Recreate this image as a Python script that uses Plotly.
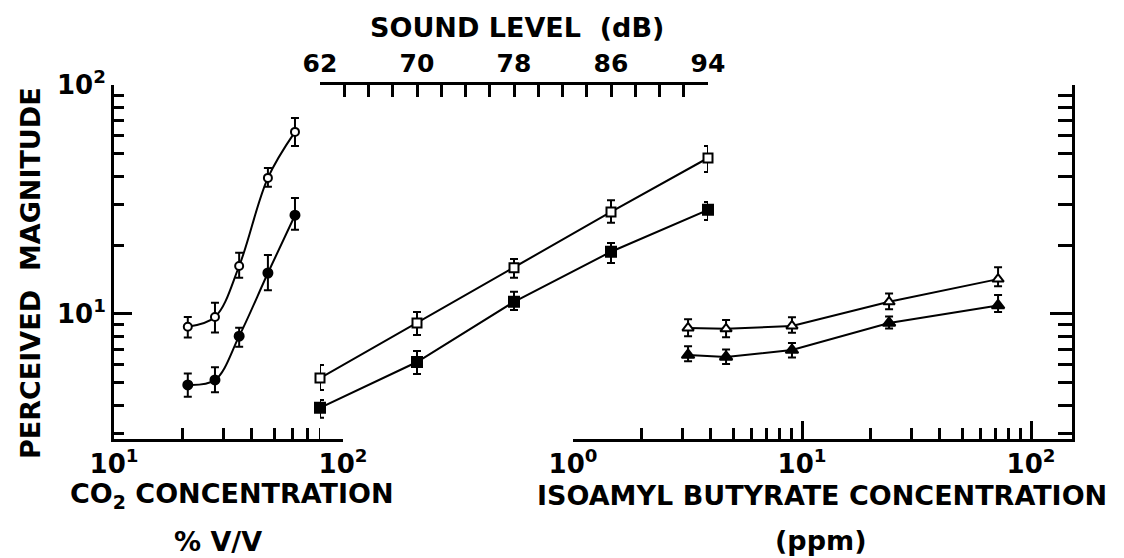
import plotly.graph_objects as go
import math

# ---------------- data ----------------
co2_conc = [21.0, 27.6, 35.2, 47.0, 61.7]
co2_open = [8.8, 9.7, 16.2, 39.3, 62.4]
co2_open_up = [0.9, 1.5, 2.3, 4.1, 9.4]
co2_open_dn = [0.9, 1.4, 1.8, 3.4, 8.2]
co2_filled = [4.9, 5.15, 8.0, 15.1, 27.0]
co2_filled_up = [0.6, 0.7, 0.7, 3.0, 5.1]
co2_filled_dn = [0.55, 0.6, 0.8, 2.4, 3.7]

sound_db = [62, 70, 78, 86, 94]
sound_open = [5.25, 9.14, 15.9, 27.9, 48.0]
sound_open_up = [0.74, 1.06, 1.5, 3.5, 6.2]
sound_open_dn = [0.59, 1.04, 1.5, 2.9, 6.3]
sound_filled = [3.89, 6.17, 11.3, 18.7, 28.5]
sound_filled_up = [0.32, 0.72, 1.2, 1.7, 2.3]
sound_filled_dn = [0.37, 0.70, 0.9, 2.0, 2.8]

iso_conc = [3.18, 4.66, 9.04, 24.0, 71.8]
iso_open = [8.69, 8.61, 8.87, 11.3, 14.2]
iso_open_up = [0.8, 0.8, 0.8, 1.0, 1.8]
iso_open_dn = [0.7, 0.7, 0.6, 0.8, 1.0]
iso_filled = [6.62, 6.49, 6.96, 9.14, 10.9]
iso_filled_up = [0.6, 0.5, 0.5, 0.6, 1.2]
iso_filled_dn = [0.4, 0.45, 0.5, 0.5, 0.7]

sound_ticks = [62, 70, 78, 86, 94]
y_major = [10, 100]
y_minor = [2, 3, 4, 5, 6, 7, 8, 9, 20, 30, 40, 50, 60, 70, 80, 90]
co2_major = [10, 100]
co2_minor = [20, 30, 40, 50, 60, 70, 80, 90]
iso_major = [1, 10, 100]
iso_minor = [2, 3, 4, 5, 6, 7, 8, 9, 20, 30, 40, 50, 60, 70, 80, 90]

# ---------------- layout geometry ----------------
W, H = 1124, 558
L, R, T, B = 114, 1072, 85, 439
PW, PH = R - L, B - T


def px_x(p):
    return (p - L) / PW


def px_y(p):
    return (B - p) / PH


FONT = "DejaVu Sans"
BLACK = "black"


def sup(v):
    return "10<sup>%d</sup>" % round(math.log10(v))


fig = go.Figure()


def add_series(x, y, up, dn, symbol, filled, xaxis, shape="linear", size=10):
    fig.add_trace(go.Scatter(
        x=x, y=y, xaxis=xaxis, yaxis="y", mode="lines+markers",
        line=dict(color=BLACK, width=2, shape=shape, smoothing=1.0),
        marker=dict(symbol=symbol, size=size,
                    color=BLACK if filled else "white",
                    line=dict(color=BLACK, width=2)),
        error_y=dict(type="data", symmetric=False, array=up, arrayminus=dn,
                     color=BLACK, thickness=2, width=4),
        cliponaxis=False, showlegend=False, hoverinfo="skip"))


add_series(co2_conc, co2_open, co2_open_up, co2_open_dn, "circle", False, "x", "spline", 8)
add_series(co2_conc, co2_filled, co2_filled_up, co2_filled_dn, "circle", True, "x", "spline", 9)
add_series(sound_db, sound_open, sound_open_up, sound_open_dn, "square", False, "x2", "linear", 9)
add_series(sound_db, sound_filled, sound_filled_up, sound_filled_dn, "square", True, "x2", "linear", 10)
add_series(iso_conc, iso_open, iso_open_up, iso_open_dn, "triangle-up", False, "x3", "linear", 10)
add_series(iso_conc, iso_filled, iso_filled_up, iso_filled_dn, "triangle-up", True, "x3", "linear", 11)

tickfont = dict(family=FONT, size=26, color=BLACK, weight="bold")
axis_common = dict(showgrid=False, zeroline=False, showline=True, linecolor=BLACK,
                   linewidth=3, ticks="inside", tickcolor=BLACK, tickwidth=3,
                   mirror=False)

yr = [0.454, 2.0]

fig.update_layout(
    width=W, height=H, autosize=False,
    margin=dict(l=L, r=W - R, t=T, b=H - B, pad=0),
    paper_bgcolor="white", plot_bgcolor="white",
    xaxis=dict(axis_common, type="log", range=[1, 2], domain=[0, px_x(343)],
               anchor="y", side="bottom", tickmode="array", tickvals=co2_major,
               ticktext=[sup(v) for v in co2_major], ticklen=18, tickfont=tickfont,
               minor=dict(tickmode="array", tickvals=co2_minor, ticklen=11,
                          ticks="inside", tickcolor=BLACK, tickwidth=3)),
    xaxis2=dict(axis_common, type="linear", range=[62, 94],
                domain=[px_x(320), px_x(708)], anchor="y", side="top",
                tickmode="array", tickvals=sound_ticks,
                ticktext=[str(v) for v in sound_ticks], ticklen=12,
                tickfont=dict(family=FONT, size=25, color=BLACK, weight="bold"),
                minor=dict(dtick=2, tick0=62, ticklen=12, ticks="inside",
                           tickcolor=BLACK, tickwidth=3)),
    xaxis3=dict(axis_common, type="log", range=[0, 2.179],
                domain=[px_x(573), 1.0], anchor="y", side="bottom",
                tickmode="array", tickvals=iso_major,
                ticktext=[sup(v) for v in iso_major], ticklen=18, tickfont=tickfont,
                minor=dict(tickmode="array", tickvals=iso_minor, ticklen=11,
                           ticks="inside", tickcolor=BLACK, tickwidth=3)),
    yaxis=dict(axis_common, type="log", range=yr, domain=[0, 1], anchor="x",
               side="left", tickmode="array", tickvals=y_major,
               ticktext=[sup(v) for v in y_major], ticklen=18, tickfont=tickfont,
               minor=dict(tickmode="array", tickvals=y_minor, ticklen=10,
                          ticks="inside", tickcolor=BLACK, tickwidth=3)),
    yaxis2=dict(axis_common, type="log", range=yr, domain=[0, 1], anchor="x3",
                overlaying="y", side="right", tickmode="array", tickvals=y_major,
                showticklabels=False, ticklen=22,
                minor=dict(tickmode="array", tickvals=y_minor, ticklen=14,
                           ticks="inside", tickcolor=BLACK, tickwidth=3)),
)

# invisible trace so the right-hand axis is drawn
fig.add_trace(go.Scatter(x=[iso_conc[0]], y=[iso_open[0]], xaxis="x3", yaxis="y2",
                         mode="markers", marker=dict(opacity=0), showlegend=False,
                         hoverinfo="skip"))

title_font = dict(family=FONT, size=27, color=BLACK, weight="bold")


def label(text, cx, cy, angle=0):
    fig.add_annotation(text=text, xref="paper", yref="paper", x=px_x(cx), y=px_y(cy),
                       xanchor="center", yanchor="middle", showarrow=False,
                       textangle=angle, font=title_font)


label("PERCEIVED\u00a0\u00a0MAGNITUDE", 30, 273, -90)
label("SOUND\u00a0LEVEL\u00a0\u00a0(dB)", 517, 27)
label("CO<sub>2</sub>\u00a0CONCENTRATION", 232, 495)
label("%\u00a0V/V", 218, 541)
label("ISOAMYL\u00a0BUTYRATE\u00a0CONCENTRATION", 822, 495)
label("(ppm)", 820, 540)

fig.write_html("out.html")
